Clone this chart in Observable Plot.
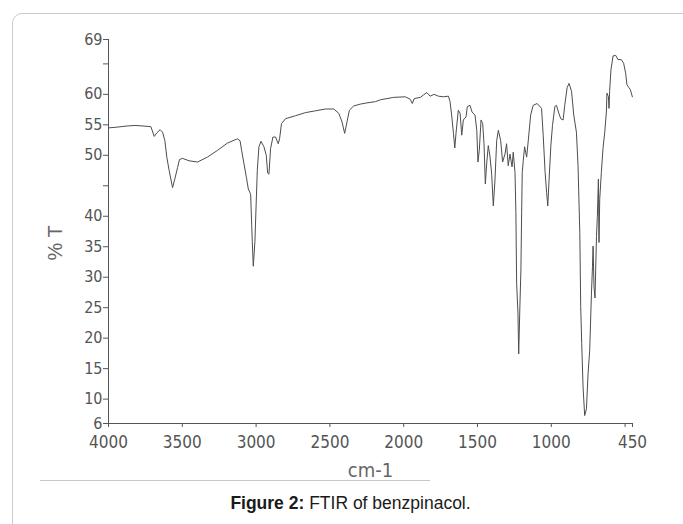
<!DOCTYPE html>
<html><head><meta charset="utf-8">
<script src="https://cdn.jsdelivr.net/npm/d3@7"></script>
<script src="https://cdn.jsdelivr.net/npm/@observablehq/plot@0.6"></script>
<style>
html,body{margin:0;padding:0;background:#fff;}
#page{position:relative;width:683px;height:524px;overflow:hidden;}
#frame{position:absolute;left:12px;top:13px;width:720px;height:560px;border:1px solid #cbcbcb;border-radius:10px;box-sizing:border-box;}
#chart{position:absolute;left:0;top:0;}
#scanline{position:absolute;left:40px;top:480px;width:390px;height:0;border-top:1px solid #c8c8c8;}
#caption{position:absolute;left:0;width:701px;top:493px;text-align:center;font:17.5px "Liberation Sans", Arial, sans-serif;color:#1a1a1a;line-height:20px;}
</style></head>
<body><div id="page"><div id="frame"></div><div id="chart"></div><div id="scanline"></div><div id="caption"><b>Figure 2:</b> FTIR of benzpinacol.</div></div>
<script>
// Wavenumber (cm-1) and %T
const wavenumber = [4000,3950,3880,3820,3760,3713,3690,3672,3650,3634,3618,3605,3589,3566,3551,3532,3519,3499,3454,3397,3330,3262,3195,3127,3109,3098,3082,3066,3053,3037,3030,3026,3019,3008,2999,2992,2981,2967,2947,2931,2922,2913,2902,2886,2868,2850,2841,2828,2801,2733,2666,2598,2530,2474,2440,2418,2400,2384,2368,2339,2294,2249,2192,2159,2069,1990,1956,1942,1929,1888,1866,1843,1821,1794,1765,1731,1697,1686,1674,1663,1654,1645,1630,1618,1607,1596,1578,1569,1551,1537,1517,1505,1497,1488,1476,1465,1456,1447,1438,1427,1415,1404,1393,1382,1370,1359,1343,1330,1314,1303,1292,1280,1266,1258,1246,1240,1235,1226,1221,1213,1206,1201,1197,1190,1181,1167,1157,1140,1123,1096,1066,1055,1042,1032,1024,1015,1003,992,976,965,949,936,920,909,893,880,863,848,830,819,807,801,794,785,774,762,751,740,728,721,717,711,704,694,688,681,677,672,661,650,638,627,623,613,609,605,596,582,564,548,526,510,496,488,474,465,451];
const transmittance = [54.5,54.6,54.8,54.9,54.8,54.7,53.1,53.7,54.2,53.8,52.4,49.7,47.5,44.7,46.1,48.0,49.3,49.5,49.1,48.9,49.7,50.8,52.0,52.7,52.4,50.8,48.6,46.4,44.5,43.6,38.7,35.9,31.8,35.9,42.5,47.5,51.4,52.3,51.4,50.0,47.1,46.9,51.1,53.0,53.0,51.9,52.7,55.2,56.0,56.5,57.0,57.3,57.6,57.6,56.9,55.5,53.6,55.5,57.4,58.1,58.4,58.6,58.8,59.1,59.5,59.6,59.2,58.5,59.3,59.5,59.9,60.3,59.7,60.0,59.7,59.6,59.7,58.8,56.3,53.6,51.2,53.8,57.4,56.9,53.3,55.8,56.3,58.0,58.2,57.1,56.6,54.1,48.9,50.8,55.8,55.2,51.9,45.3,48.6,51.6,49.7,46.9,41.7,45.8,52.4,54.1,52.4,48.9,50.2,51.9,48.3,50.2,48.1,50.5,47.2,40.6,29.0,24.1,17.4,25.2,31.2,40.6,47.2,49.1,51.4,49.7,52.2,56.6,58.2,58.5,57.7,53.3,47.2,43.9,41.7,46.1,51.6,54.9,58.0,58.2,56.9,56.0,55.8,58.2,61.1,61.8,60.5,56.6,53.8,48.3,37.3,25.2,19.1,12.0,7.3,8.4,14.2,18.0,27.4,31.8,35.1,28.5,26.6,36.7,40.0,46.1,35.7,42.8,47.2,51.1,53.8,57.1,60.2,59.6,57.7,60.5,64.0,66.3,66.4,65.7,65.7,65.1,63.4,61.6,61.1,60.8,59.6];

const xDomain = [4000, 450];
const yDomain = [6, 69];
const xTicks = [4000, 3500, 3000, 2500, 2000, 1500, 1000, 500, 450];
const xTickLabels = ["4000", "3500", "3000", "2500", "2000", "1500", "1000", "", "450"];
const yTicks = [6, 10, 15, 20, 25, 30, 35, 40, 45, 50, 55, 60, 65, 69];
const yTickLabels = ["6", "10", "15", "20", "25", "30", "35", "40", "", "50", "55", "60", "", "69"];
const xLabel = "cm-1";
const yLabel = "% T";

const data = wavenumber.map((w, i) => ({w, t: transmittance[i]}));
const narrow = '"Liberation Sans Narrow", "DejaVu Sans Condensed", "Roboto", sans-serif';

const chart = Plot.plot({
  width: 683, height: 470,
  marginLeft: 108, marginRight: 51, marginTop: 39, marginBottom: 47,
  style: {fontFamily: narrow, color: "#555", background: "transparent", overflow: "visible"},
  x: {domain: xDomain},
  y: {domain: yDomain},
  marks: [
    Plot.axisX({ticks: xTicks, tickFormat: d => xTickLabels[xTicks.indexOf(d)], tickSize: 4, tickPadding: 8, fontSize: 17, label: null}),
    Plot.axisY({ticks: yTicks, tickFormat: d => yTickLabels[yTicks.indexOf(d)], tickSize: 5, tickPadding: 1, fontSize: 16, label: null}),
    Plot.ruleX([xDomain[0]], {stroke: "#555"}),
    Plot.ruleY([yDomain[0]], {stroke: "#555"}),
    Plot.line(data, {x: "w", y: "t", stroke: "#4d4d4d", strokeWidth: 1}),
    Plot.text([xLabel], {frameAnchor: "bottom", dy: 53, fontSize: 20, fill: "#666"}),
    Plot.text([yLabel], {frameAnchor: "left", dx: -53, dy: 29, rotate: -90, fontSize: 20, fill: "#666", fontFamily: '"Liberation Sans", Arial, sans-serif'})
  ]
});
document.getElementById("chart").appendChild(chart);
</script>
</body></html>
